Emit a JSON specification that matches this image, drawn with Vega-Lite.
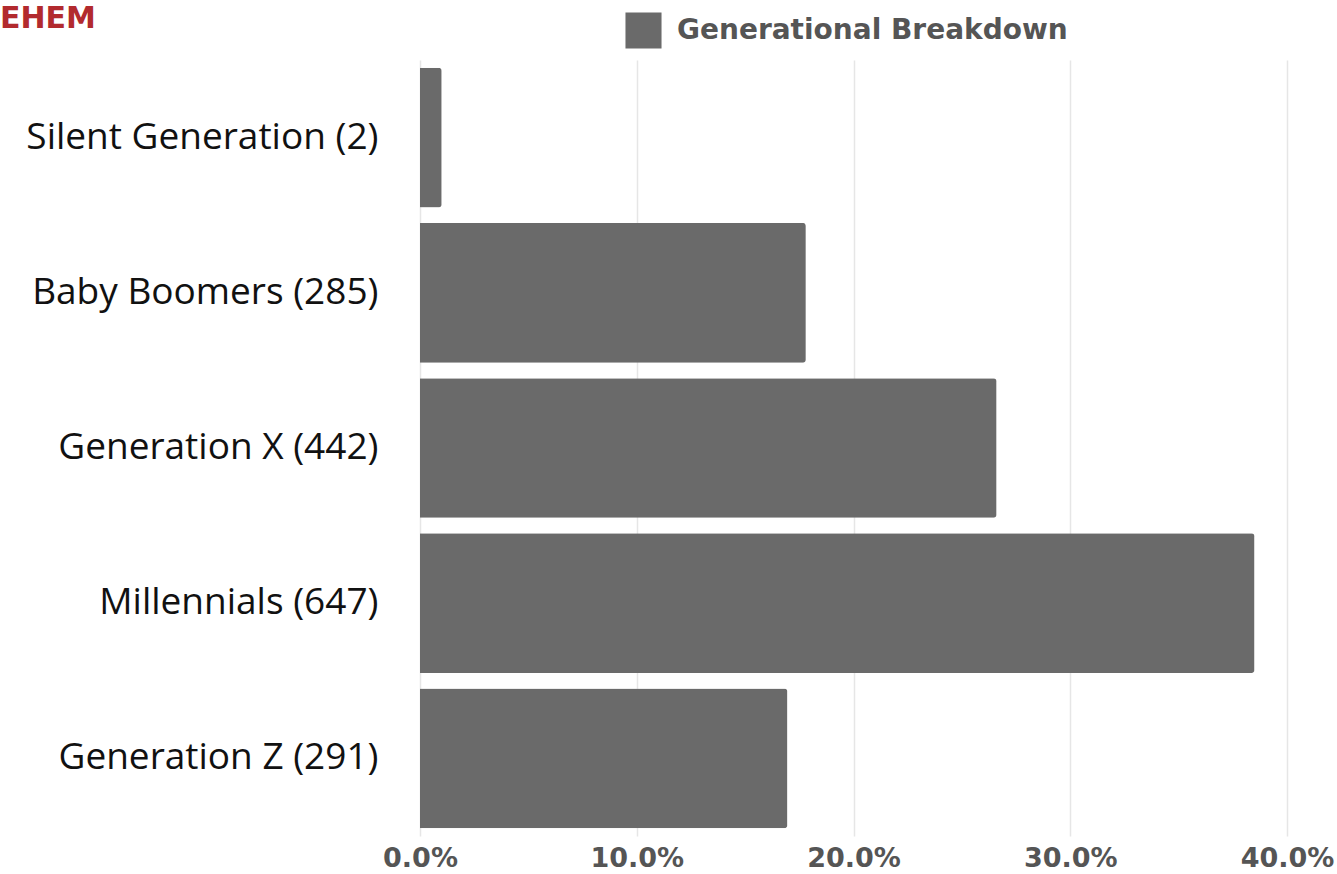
{
  "$schema": "https://vega.github.io/schema/vega-lite/v6.json",
  "width": 867,
  "height": 776,
  "autosize": {"type": "none"},
  "padding": {"left": 420, "top": 60, "right": 50, "bottom": 38},
  "background": "white",
  "title": {
    "text": "EHEM",
    "anchor": "start",
    "frame": "group",
    "orient": "top",
    "baseline": "alphabetic",
    "offset": 0,
    "dx": -420,
    "dy": 46,
    "color": "#b22a2e",
    "font": "DejaVu Sans",
    "fontSize": 30,
    "fontWeight": "bold"
  },
  "data": {
    "values": [
      {"generation": "Silent Generation (2)", "share": 0.010, "series": "Generational Breakdown"},
      {"generation": "Baby Boomers (285)", "share": 0.178, "series": "Generational Breakdown"},
      {"generation": "Generation X (442)", "share": 0.266, "series": "Generational Breakdown"},
      {"generation": "Millennials (647)", "share": 0.385, "series": "Generational Breakdown"},
      {"generation": "Generation Z (291)", "share": 0.1695, "series": "Generational Breakdown"}
    ]
  },
  "mark": {"type": "bar", "cornerRadiusEnd": 3},
  "encoding": {
    "y": {
      "field": "generation",
      "type": "nominal",
      "sort": null,
      "scale": {"paddingInner": 0.1, "paddingOuter": 0.05},
      "axis": {
        "title": null,
        "domain": false,
        "ticks": false,
        "tickSize": 0,
        "grid": false,
        "labelPadding": 42,
        "labelFont": "Open Sans",
        "labelFontSize": 37,
        "labelColor": "#111111",
        "labelLimit": 600
      }
    },
    "x": {
      "field": "share",
      "type": "quantitative",
      "scale": {"domain": [0, 0.4], "nice": false},
      "axis": {
        "title": null,
        "domain": false,
        "ticks": false,
        "tickSize": 0,
        "grid": true,
        "gridColor": "#e6e6e6",
        "gridWidth": 1.5,
        "values": [0, 0.1, 0.2, 0.3, 0.4],
        "format": ".1%",
        "labelFont": "DejaVu Sans",
        "labelFontWeight": "bold",
        "labelFontSize": 27,
        "labelColor": "#555555",
        "labelPadding": 9,
        "labelFlush": false,
        "labelOverlap": false,
        "labelBound": false
      }
    },
    "color": {
      "field": "series",
      "type": "nominal",
      "scale": {"range": ["#6a6a6a"]},
      "legend": {
        "orient": "none",
        "legendX": 205,
        "legendY": -48,
        "title": null,
        "padding": 0,
        "symbolType": "square",
        "symbolSize": 1300,
        "symbolStrokeWidth": 0,
        "labelFont": "DejaVu Sans",
        "labelFontWeight": "bold",
        "labelFontSize": 28,
        "labelColor": "#555555",
        "labelOffset": 15,
        "labelLimit": 700,
        "encode": {"symbols": {"update": {"fill": {"value": "#505050"}, "opacity": {"value": 1}}}}
      }
    }
  },
  "config": {"view": {"stroke": null}}
}
